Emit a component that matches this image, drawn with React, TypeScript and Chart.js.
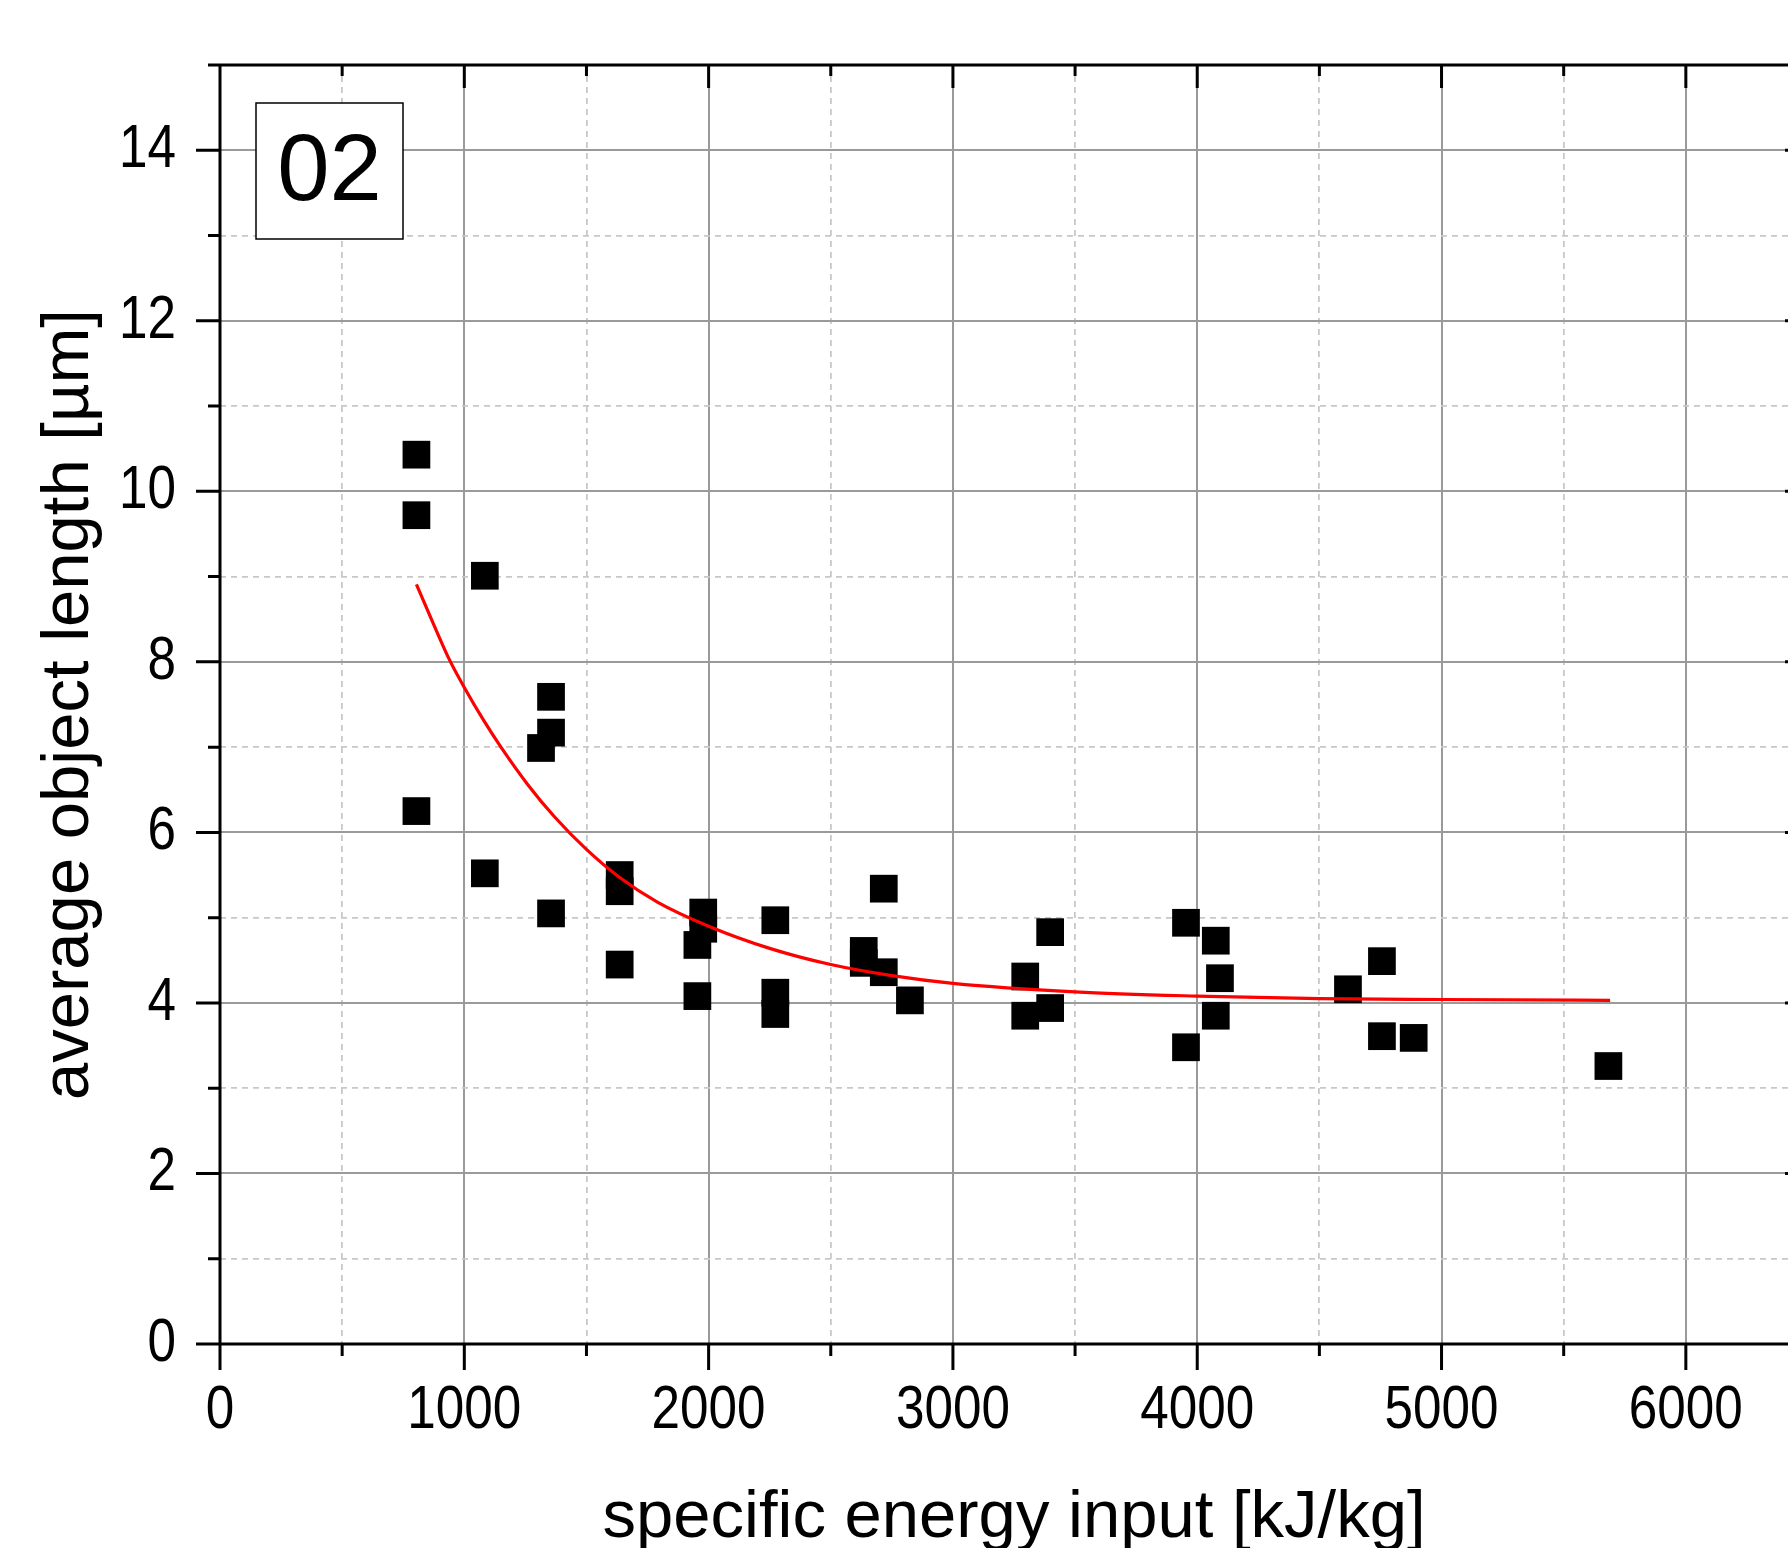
import React, { useEffect, useRef } from "react";
import { Chart, registerables } from "chart.js";

Chart.register(...registerables);

// Measured data points (specific energy input [kJ/kg], average object length [µm])
const pointEnergy = [
  804, 804, 804, 1084, 1084, 1355, 1355, 1314, 1355, 1636, 1636, 1636, 1978, 1978,
  1954, 1954, 2273, 2273, 2273, 2717, 2635, 2635, 2717, 2824, 3296, 3296, 3398, 3398,
  3954, 3954, 4076, 4093, 4076, 4617, 4756, 4756, 4886, 5683,
];
const pointLength = [
  10.43, 9.72, 6.25, 9.01, 5.52, 7.59, 7.17, 6.99, 5.05, 5.5, 5.31, 4.45, 5.06, 4.87,
  4.68, 4.08, 4.97, 4.12, 3.87, 5.34, 4.61, 4.47, 4.36, 4.03, 4.31, 3.85, 4.83, 3.94,
  4.94, 3.48, 4.73, 4.29, 3.85, 4.16, 4.49, 3.61, 3.59, 3.26,
];

// Fitted curve
const fitEnergy = [804, 870, 940, 1000, 1080, 1150, 1260, 1370, 1500, 1636, 1792, 2000, 2250, 2500, 2750, 3000, 3500, 4000, 4500, 5000, 5690];
const fitLength = [8.91, 8.47, 8.02, 7.7, 7.31, 7.0, 6.56, 6.18, 5.8, 5.47, 5.18, 4.9, 4.64, 4.45, 4.32, 4.23, 4.13, 4.08, 4.05, 4.04, 4.03];

const xTickLabels = ["0", "1000", "2000", "3000", "4000", "5000", "6000"];
const yTickLabels = ["0", "2", "4", "6", "8", "10", "12", "14"];

const xTitle = "specific energy input [kJ/kg]";
const yTitle = "average object length [µm]";
const panelLabel = "02";

const X_MIN = 0;
const X_MAX = 6500;
const Y_MIN = 0;
const Y_MAX = 15;

const SANS = "'Liberation Sans', Arial, sans-serif";

const framePlugin = {
  id: "originFrame",
  afterDraw(chart: any) {
    const { ctx, chartArea: a, scales } = chart;
    const x = scales.x;
    const y = scales.y;
    ctx.save();
    ctx.strokeStyle = "#000";
    ctx.lineWidth = 3;
    ctx.lineCap = "butt";
    ctx.beginPath();
    // frame
    ctx.moveTo(a.left - 1.5, a.top);
    ctx.lineTo(a.right + 1.5, a.top);
    ctx.moveTo(a.left - 1.5, a.bottom);
    ctx.lineTo(a.right + 1.5, a.bottom);
    ctx.moveTo(a.left, a.top);
    ctx.lineTo(a.left, a.bottom);
    ctx.moveTo(a.right, a.top);
    ctx.lineTo(a.right, a.bottom);
    // x ticks
    x.ticks.forEach((t: any) => {
      const px = x.getPixelForValue(t.value);
      const major = t.value % 1000 === 0;
      ctx.moveTo(px, a.bottom);
      ctx.lineTo(px, a.bottom + (major ? 26 : 12));
      ctx.moveTo(px, a.top);
      ctx.lineTo(px, a.top + (major ? 23 : 11));
    });
    // y ticks
    y.ticks.forEach((t: any) => {
      const py = y.getPixelForValue(t.value);
      const major = t.value % 2 === 0;
      ctx.moveTo(a.left, py);
      ctx.lineTo(a.left - (major ? 24 : 12), py);
      ctx.moveTo(a.right, py);
      ctx.lineTo(a.right - (major ? 23 : 11), py);
    });
    ctx.stroke();

    // tick labels (narrow sans, as in the original)
    ctx.fillStyle = "#000";
    ctx.font = `61px ${SANS}`;
    ctx.textBaseline = "middle";
    const sx = 0.84;
    x.ticks.forEach((t: any) => {
      const s = String(t.value);
      if (!xTickLabels.includes(s)) return;
      const px = x.getPixelForValue(t.value);
      ctx.save();
      ctx.translate(px, a.bottom + 67);
      ctx.scale(sx, 1);
      ctx.textAlign = "center";
      ctx.fillText(s, 0, 0);
      ctx.restore();
    });
    y.ticks.forEach((t: any) => {
      const s = String(t.value);
      if (!yTickLabels.includes(s)) return;
      const py = y.getPixelForValue(t.value);
      ctx.save();
      ctx.translate(a.left - 44, py);
      ctx.scale(sx, 1);
      ctx.textAlign = "right";
      ctx.fillText(s, 0, 0);
      ctx.restore();
    });

    // panel label box
    const bx = a.left + 36;
    const by = a.top + 38;
    const bw = 147;
    const bh = 136;
    ctx.fillStyle = "#fff";
    ctx.fillRect(bx, by, bw, bh);
    ctx.lineWidth = 1.5;
    ctx.strokeRect(bx, by, bw, bh);
    ctx.fillStyle = "#000";
    ctx.font = `94px ${SANS}`;
    ctx.textAlign = "center";
    ctx.textBaseline = "middle";
    ctx.fillText(panelLabel, bx + bw / 2, by + bh / 2 + 3);
    ctx.restore();
  },
};

const zeroPadding = (s: any) => {
  s.paddingLeft = 0;
  s.paddingRight = 0;
  s.paddingTop = 0;
  s.paddingBottom = 0;
};

export default function App() {
  const ref = useRef<HTMLCanvasElement | null>(null);

  useEffect(() => {
    if (!ref.current) return;
    const scatterData = pointEnergy.map((e, i) => ({ x: e, y: pointLength[i] }));
    const fitData = fitEnergy.map((e, i) => ({ x: e, y: fitLength[i] }));

    const chart = new Chart(ref.current, {
      type: "scatter",
      data: {
        datasets: [
          {
            label: "fit",
            data: fitData,
            showLine: true,
            borderColor: "#ff0000",
            borderWidth: 3.2,
            pointRadius: 0,
            cubicInterpolationMode: "monotone",
            order: 0,
          } as any,
          {
            label: "data",
            data: scatterData,
            pointStyle: "rect",
            pointRadius: 19.6,
            pointHoverRadius: 19.6,
            backgroundColor: "#000",
            borderColor: "#000",
            borderWidth: 0,
            order: 1,
          } as any,
        ],
      },
      options: {
        animation: false,
        responsive: false,
        layout: { padding: { top: 65, right: 20, left: 0, bottom: 0 } },
        plugins: {
          legend: { display: false },
          tooltip: { enabled: false },
        },
        scales: {
          x: {
            type: "linear",
            min: X_MIN,
            max: X_MAX,
            afterFit: (s: any) => {
              s.height = 204;
              zeroPadding(s);
            },
            ticks: {
              display: false,
              stepSize: 500,
              autoSkip: false,
              maxRotation: 0,
            },
            grid: {
              drawTicks: false,
              color: (c: any) => (c.tick && c.tick.value % 1000 === 0 ? "#9a9a9a" : "#c8c8c8"),
              lineWidth: (c: any) => (c.tick && c.tick.value % 1000 === 0 ? 2 : 1.8),
            },
            border: {
              display: false,
              dash: (c: any) => (c.tick && c.tick.value % 1000 === 0 ? [] : [6, 5]),
            } as any,
            title: {
              display: true,
              text: xTitle,
              color: "#000",
              font: { family: SANS, size: 67, lineHeight: 0.86 },
              padding: { top: 0, bottom: 1 },
            },
          },
          y: {
            type: "linear",
            min: Y_MIN,
            max: Y_MAX,
            afterFit: (s: any) => {
              s.width = 220;
              zeroPadding(s);
            },
            ticks: {
              display: false,
              stepSize: 1,
              autoSkip: false,
            },
            grid: {
              drawTicks: false,
              color: (c: any) => (c.tick && c.tick.value % 2 === 0 ? "#9a9a9a" : "#c8c8c8"),
              lineWidth: (c: any) => (c.tick && c.tick.value % 2 === 0 ? 2 : 1.8),
            },
            border: {
              display: false,
              dash: (c: any) => (c.tick && c.tick.value % 2 === 0 ? [] : [6, 5]),
            } as any,
            title: {
              display: true,
              text: yTitle,
              color: "#000",
              font: { family: SANS, size: 67, lineHeight: 1.2 },
              padding: { top: 29, bottom: 0 },
            },
          },
        },
      },
      plugins: [framePlugin],
    });
    return () => chart.destroy();
  }, []);

  return (
    <div
      style={{
        position: "absolute",
        left: 0,
        top: 0,
        width: 1788,
        height: 1548,
        overflow: "hidden",
        background: "#fff",
      }}
    >
      <canvas ref={ref} width={1828} height={1548} style={{ display: "block", width: 1828, height: 1548 }} />
    </div>
  );
}
